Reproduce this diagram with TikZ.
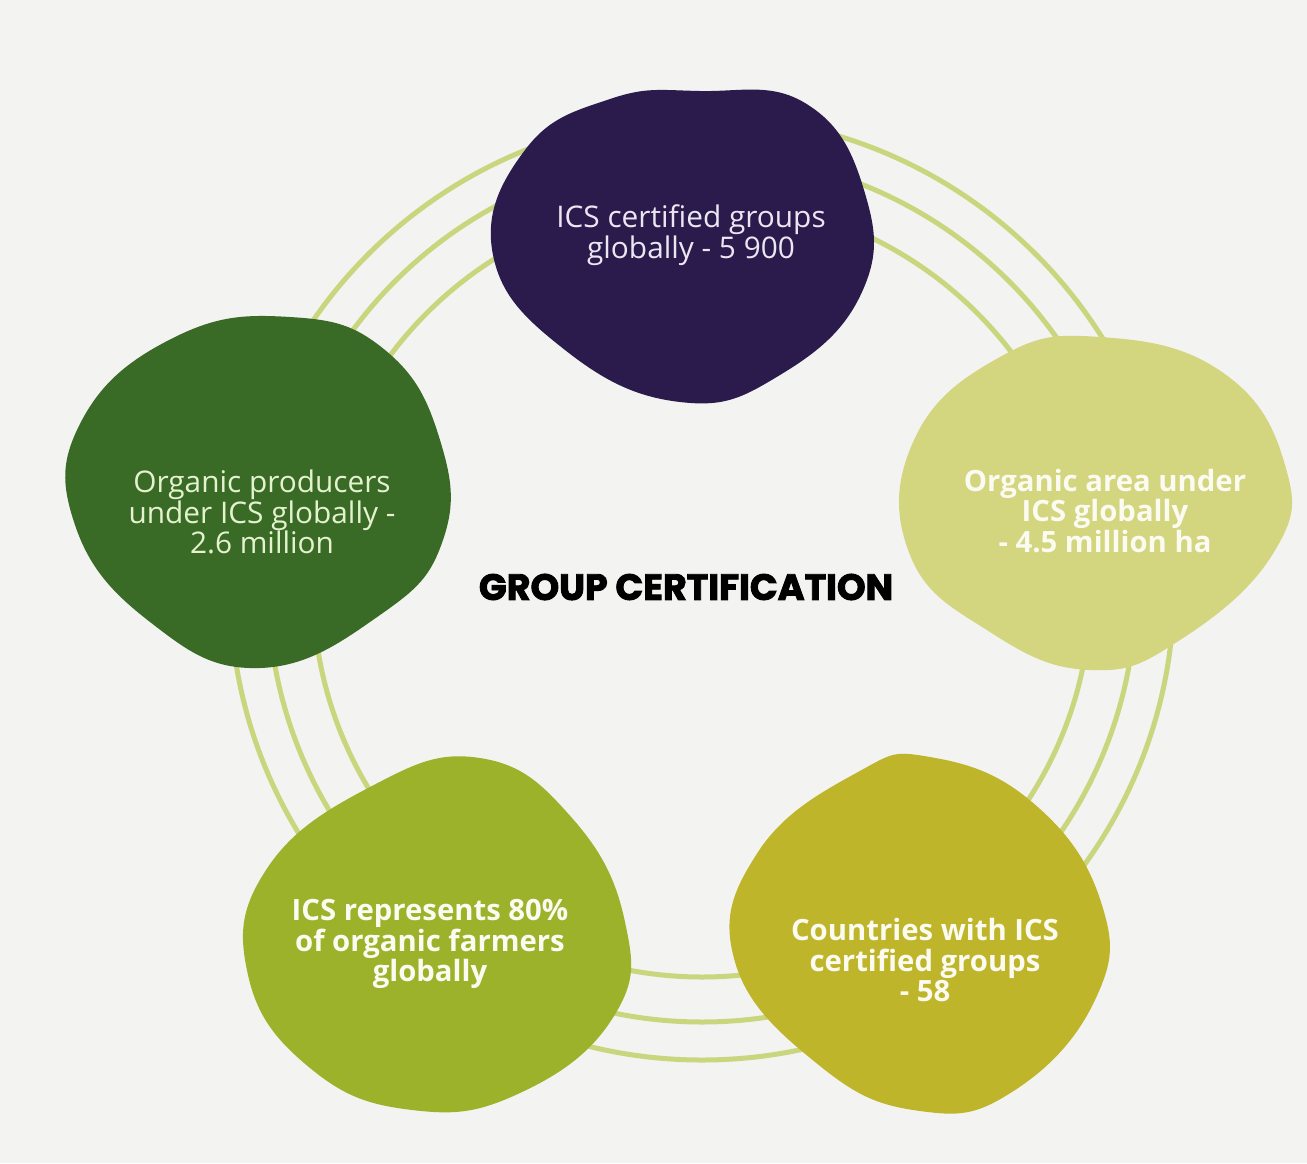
\documentclass[tikz,border=0pt]{standalone}
\usepackage{fontspec}
\setmainfont{Open Sans}
\newfontfamily\titlefont{Poppins}[BoldFeatures={FakeBold=2.5}]
\definecolor{ringc}{HTML}{CAD67E}
\definecolor{bgc}{HTML}{F3F3F1}
\definecolor{purp}{HTML}{2A1B4C}
\definecolor{dgreen}{HTML}{3A6B26}
\definecolor{lolive}{HTML}{D3D57F}
\definecolor{limec}{HTML}{9DB22B}
\definecolor{mustard}{HTML}{BFB52A}
\definecolor{lavtext}{HTML}{ECE6F2}
\definecolor{gtext}{HTML}{E4F2CF}
\definecolor{wtext}{HTML}{FBFBF2}
\tikzset{
  ringline/.style={draw=ringc, line width=5pt},
  regtext/.style={align=center, font=\fontsize{29.8}{30.5}\selectfont},
  boldtext/.style={align=center, font=\fontsize{29.3}{30.5}\selectfont\bfseries},
}
\begin{document}
\begin{tikzpicture}[x=1pt, y=-1pt]
\fill[bgc] (0,0) rectangle (1307,1163);
\useasboundingbox (0,0) rectangle (1307,1163);
% rings
\coordinate (ctr) at (702,588);
\draw[ringline] (ctr) circle[radius=472];
\draw[ringline] (ctr) circle[radius=434];
\draw[ringline] (ctr) circle[radius=389];
% top blob
\fill[purp] plot[smooth cycle, tension=0.75] coordinates {(700,91) (805,103) (864,190) (862,292) (780,375) (680,402) (565,350) (493,255) (525,150) (610,99)};
% left blob
\fill[dgreen] plot[smooth cycle, tension=0.75] coordinates {(290,317) (385,350) (440,440) (443,540) (380,615) (260,668) (150,622) (75,525) (82,420) (175,337)};
% right blob
\fill[lolive] plot[smooth cycle, tension=0.75] coordinates {(1100,337) (1222,372) (1285,465) (1274,552) (1180,640) (1090,670) (990,632) (910,555) (914,440) (1000,357)};
% bottom left blob
\fill[limec] plot[smooth cycle, tension=0.75] coordinates {(480,758) (572,818) (625,922) (614,1016) (520,1093) (412,1110) (310,1068) (248,975) (266,870) (370,787)};
% bottom right blob
\fill[mustard] plot[smooth cycle, tension=0.75] coordinates {(930,757) (1032,802) (1101,902) (1095,1000) (1012,1092) (920,1111) (820,1066) (735,962) (758,852) (858,772)};
% texts
\node[regtext, text=lavtext] (t1) at (691,235) {ICS certified groups\\globally - 5 900};
\node[regtext, text=gtext] (t2) at (262,512) {Organic producers\\under ICS globally -\\2.6 million};
\node[boldtext, text=wtext] (t3) at (1105,511) {Organic area under\\ICS globally\\- 4.5 million ha};
\node[boldtext, text=wtext] (t4) at (430,944) {ICS represents 80\%\\of organic farmers\\globally};
\node[boldtext, text=wtext] (t5) at (925,960) {Countries with ICS\\certified groups\\- 58};
\node[font=\titlefont\bfseries\fontsize{36.5}{40}\selectfont, text=black] (title) at (686,587) {GROUP CERTIFICATION};
\end{tikzpicture}
\end{document}
